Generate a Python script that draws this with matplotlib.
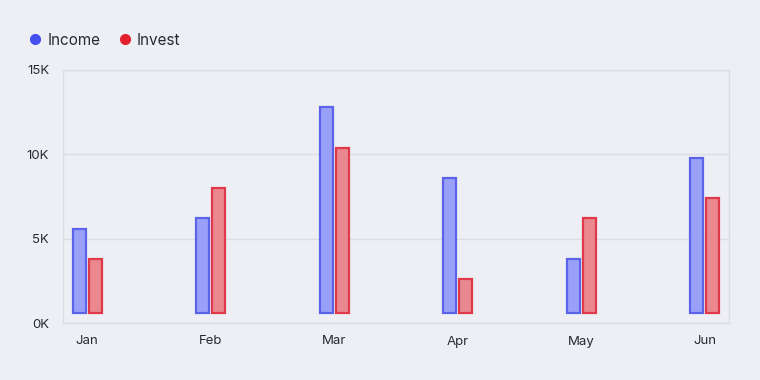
import numpy as np
import matplotlib.pyplot as plt
from matplotlib.lines import Line2D

months = ["Jan", "Feb", "Mar", "Apr", "May", "Jun"]
income = [5.6, 6.2, 12.8, 8.6, 3.8, 9.8]   # thousands
invest = [3.8, 8.0, 10.4, 2.6, 6.2, 7.4]
yticks = [0, 5, 10, 15]
ytick_labels = ["0K", "5K", "10K", "15K"]

plt.rcParams['font.family'] = ['Inter', 'DejaVu Sans']

bg = "#eeeff4"
fig = plt.figure(figsize=(7.6, 3.8), dpi=100, facecolor=bg)
ax = fig.add_axes([0.083, 0.15, 0.876, 0.666], facecolor=bg)

x = np.arange(len(months))
w = 0.105
off = 0.065
base = 0.6  # bars float a little above the axis
ax.bar(x - off, np.array(income) - base, w, bottom=base, color="#99a0f8",
       edgecolor="#5a63ea", linewidth=1.6, zorder=3)
ax.bar(x + off, np.array(invest) - base, w, bottom=base, color="#e9888f",
       edgecolor="#e0394a", linewidth=1.6, zorder=3)

ax.set_xlim(-0.194, len(months) - 1 + 0.194)
ax.set_ylim(0, 15)
ax.set_yticks(yticks)
ax.set_yticklabels(ytick_labels)
ax.set_xticks(x)
ax.set_xticklabels(months)
ax.tick_params(length=0, labelsize=9.5, colors="#2a2a33")
ax.tick_params(axis='x', pad=9)
ax.tick_params(axis='y', pad=10)
ax.grid(axis='y', color="#dcdde3", linewidth=1, zorder=0)
for s in ax.spines.values():
    s.set_color("#dcdde3")
    s.set_linewidth(1)

handles = [Line2D([], [], marker='o', linestyle='', markersize=7, color="#4450f0"),
           Line2D([], [], marker='o', linestyle='', markersize=7, color="#e2202e")]
fig.legend(handles, ["Income", "Invest"], loc='upper left', bbox_to_anchor=(0.008, 0.95),
           ncol=2, frameon=False, fontsize=11, handletextpad=-0.2, columnspacing=0.6,
           labelcolor="#2a2a33")

fig.savefig("out.png", dpi=100, facecolor=bg)
